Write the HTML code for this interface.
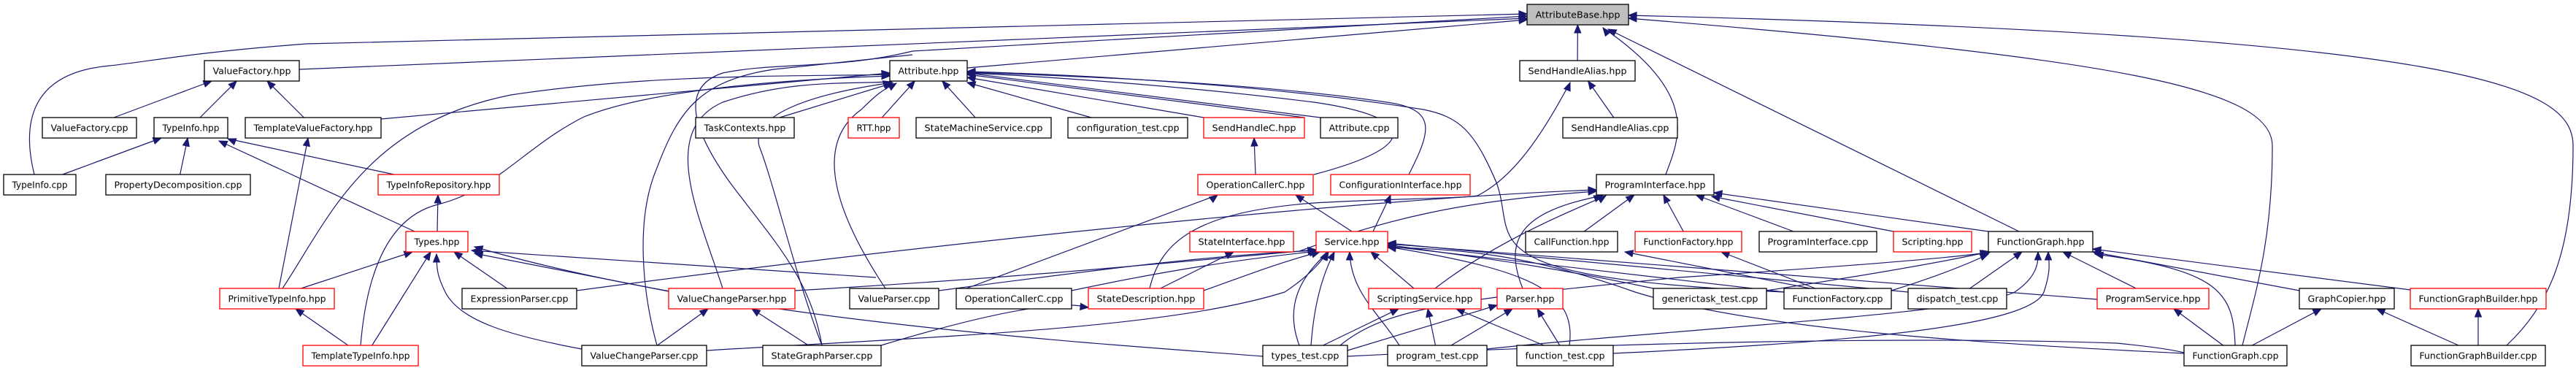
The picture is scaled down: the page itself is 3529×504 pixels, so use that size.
<!DOCTYPE html>
<html><head><meta charset="utf-8"><style>
html,body{margin:0;padding:0;background:#fff;}
svg{display:block;}
text{font-family:"DejaVu Sans","Liberation Sans",sans-serif;font-size:12.5px;fill:#000;}
</style></head><body>
<svg id="g" width="3529" height="504" viewBox="0 0 3529 504" xmlns="http://www.w3.org/2000/svg">
<g id="edges" fill="none" stroke="#191970" stroke-width="1.2"></g>
<g id="arrows" fill="#191970" stroke="#191970" stroke-width="1"></g>
<g id="nodes" stroke-width="1.3">
<rect x="2092" y="6" width="139" height="28" fill="#bfbfbf" stroke="#000"/><text x="2161.5" y="24.5" text-anchor="middle" textLength="116" lengthAdjust="spacingAndGlyphs">AttributeBase.hpp</text>
<rect x="280" y="83" width="130" height="28" fill="#fff" stroke="#000"/><text x="345" y="101.5" text-anchor="middle" textLength="107" lengthAdjust="spacingAndGlyphs">ValueFactory.hpp</text>
<rect x="1219" y="83" width="106" height="28" fill="#fff" stroke="#000"/><text x="1272" y="101.5" text-anchor="middle" textLength="83" lengthAdjust="spacingAndGlyphs">Attribute.hpp</text>
<rect x="2082" y="83" width="158" height="28" fill="#fff" stroke="#000"/><text x="2161" y="101.5" text-anchor="middle" textLength="135" lengthAdjust="spacingAndGlyphs">SendHandleAlias.hpp</text>
<rect x="58" y="161" width="129" height="28" fill="#fff" stroke="#000"/><text x="122.5" y="179.5" text-anchor="middle" textLength="106" lengthAdjust="spacingAndGlyphs">ValueFactory.cpp</text>
<rect x="211" y="161" width="101" height="28" fill="#fff" stroke="#000"/><text x="261.5" y="179.5" text-anchor="middle" textLength="78" lengthAdjust="spacingAndGlyphs">TypeInfo.hpp</text>
<rect x="336" y="161" width="186" height="28" fill="#fff" stroke="#000"/><text x="429" y="179.5" text-anchor="middle" textLength="163" lengthAdjust="spacingAndGlyphs">TemplateValueFactory.hpp</text>
<rect x="953" y="161" width="135" height="28" fill="#fff" stroke="#000"/><text x="1020.5" y="179.5" text-anchor="middle" textLength="112" lengthAdjust="spacingAndGlyphs">TaskContexts.hpp</text>
<rect x="1162" y="161" width="70" height="28" fill="#fff" stroke="#f00"/><text x="1197" y="179.5" text-anchor="middle" textLength="47" lengthAdjust="spacingAndGlyphs">RTT.hpp</text>
<rect x="1255" y="161" width="185" height="28" fill="#fff" stroke="#000"/><text x="1347.5" y="179.5" text-anchor="middle" textLength="162" lengthAdjust="spacingAndGlyphs">StateMachineService.cpp</text>
<rect x="1463" y="161" width="164" height="28" fill="#fff" stroke="#000"/><text x="1545" y="179.5" text-anchor="middle" textLength="141" lengthAdjust="spacingAndGlyphs">configuration_test.cpp</text>
<rect x="1649" y="161" width="138" height="28" fill="#fff" stroke="#f00"/><text x="1718" y="179.5" text-anchor="middle" textLength="115" lengthAdjust="spacingAndGlyphs">SendHandleC.hpp</text>
<rect x="1809" y="161" width="106" height="28" fill="#fff" stroke="#000"/><text x="1862" y="179.5" text-anchor="middle" textLength="83" lengthAdjust="spacingAndGlyphs">Attribute.cpp</text>
<rect x="2141" y="161" width="157" height="28" fill="#fff" stroke="#000"/><text x="2219.5" y="179.5" text-anchor="middle" textLength="134" lengthAdjust="spacingAndGlyphs">SendHandleAlias.cpp</text>
<rect x="5" y="239" width="99" height="28" fill="#fff" stroke="#000"/><text x="54.5" y="257.5" text-anchor="middle" textLength="76" lengthAdjust="spacingAndGlyphs">TypeInfo.cpp</text>
<rect x="145" y="239" width="198" height="28" fill="#fff" stroke="#000"/><text x="244" y="257.5" text-anchor="middle" textLength="175" lengthAdjust="spacingAndGlyphs">PropertyDecomposition.cpp</text>
<rect x="518" y="239" width="166" height="28" fill="#fff" stroke="#f00"/><text x="601" y="257.5" text-anchor="middle" textLength="143" lengthAdjust="spacingAndGlyphs">TypeInfoRepository.hpp</text>
<rect x="1641" y="239" width="158" height="28" fill="#fff" stroke="#f00"/><text x="1720" y="257.5" text-anchor="middle" textLength="135" lengthAdjust="spacingAndGlyphs">OperationCallerC.hpp</text>
<rect x="1823" y="239" width="191" height="28" fill="#fff" stroke="#f00"/><text x="1918.5" y="257.5" text-anchor="middle" textLength="168" lengthAdjust="spacingAndGlyphs">ConfigurationInterface.hpp</text>
<rect x="2187" y="239" width="161" height="28" fill="#fff" stroke="#000"/><text x="2267.5" y="257.5" text-anchor="middle" textLength="138" lengthAdjust="spacingAndGlyphs">ProgramInterface.hpp</text>
<rect x="556" y="317" width="85" height="28" fill="#fff" stroke="#f00"/><text x="598.5" y="335.5" text-anchor="middle" textLength="62" lengthAdjust="spacingAndGlyphs">Types.hpp</text>
<rect x="1630" y="317" width="142" height="28" fill="#fff" stroke="#f00"/><text x="1701" y="335.5" text-anchor="middle" textLength="119" lengthAdjust="spacingAndGlyphs">StateInterface.hpp</text>
<rect x="1803" y="317" width="98" height="28" fill="#fff" stroke="#f00"/><text x="1852" y="335.5" text-anchor="middle" textLength="75" lengthAdjust="spacingAndGlyphs">Service.hpp</text>
<rect x="2090" y="317" width="126" height="28" fill="#fff" stroke="#000"/><text x="2153" y="335.5" text-anchor="middle" textLength="103" lengthAdjust="spacingAndGlyphs">CallFunction.hpp</text>
<rect x="2240" y="317" width="146" height="28" fill="#fff" stroke="#f00"/><text x="2313" y="335.5" text-anchor="middle" textLength="123" lengthAdjust="spacingAndGlyphs">FunctionFactory.hpp</text>
<rect x="2410" y="317" width="161" height="28" fill="#fff" stroke="#000"/><text x="2490.5" y="335.5" text-anchor="middle" textLength="138" lengthAdjust="spacingAndGlyphs">ProgramInterface.cpp</text>
<rect x="2594" y="317" width="107" height="28" fill="#fff" stroke="#f00"/><text x="2647.5" y="335.5" text-anchor="middle" textLength="84" lengthAdjust="spacingAndGlyphs">Scripting.hpp</text>
<rect x="2724" y="317" width="143" height="28" fill="#fff" stroke="#000"/><text x="2795.5" y="335.5" text-anchor="middle" textLength="120" lengthAdjust="spacingAndGlyphs">FunctionGraph.hpp</text>
<rect x="301" y="395" width="157" height="28" fill="#fff" stroke="#f00"/><text x="379.5" y="413.5" text-anchor="middle" textLength="134" lengthAdjust="spacingAndGlyphs">PrimitiveTypeInfo.hpp</text>
<rect x="633" y="395" width="157" height="28" fill="#fff" stroke="#000"/><text x="711.5" y="413.5" text-anchor="middle" textLength="134" lengthAdjust="spacingAndGlyphs">ExpressionParser.cpp</text>
<rect x="916" y="395" width="173" height="28" fill="#fff" stroke="#f00"/><text x="1002.5" y="413.5" text-anchor="middle" textLength="150" lengthAdjust="spacingAndGlyphs">ValueChangeParser.hpp</text>
<rect x="1164" y="395" width="122" height="28" fill="#fff" stroke="#000"/><text x="1225" y="413.5" text-anchor="middle" textLength="99" lengthAdjust="spacingAndGlyphs">ValueParser.cpp</text>
<rect x="1310" y="395" width="158" height="28" fill="#fff" stroke="#000"/><text x="1389" y="413.5" text-anchor="middle" textLength="135" lengthAdjust="spacingAndGlyphs">OperationCallerC.cpp</text>
<rect x="1491" y="395" width="158" height="28" fill="#fff" stroke="#f00"/><text x="1570" y="413.5" text-anchor="middle" textLength="135" lengthAdjust="spacingAndGlyphs">StateDescription.hpp</text>
<rect x="1875" y="395" width="154" height="28" fill="#fff" stroke="#f00"/><text x="1952" y="413.5" text-anchor="middle" textLength="131" lengthAdjust="spacingAndGlyphs">ScriptingService.hpp</text>
<rect x="2051" y="395" width="90" height="28" fill="#fff" stroke="#f00"/><text x="2096" y="413.5" text-anchor="middle" textLength="67" lengthAdjust="spacingAndGlyphs">Parser.hpp</text>
<rect x="2265" y="395" width="155" height="28" fill="#fff" stroke="#000"/><text x="2342.5" y="413.5" text-anchor="middle" textLength="132" lengthAdjust="spacingAndGlyphs">generictask_test.cpp</text>
<rect x="2444" y="395" width="147" height="28" fill="#fff" stroke="#000"/><text x="2517.5" y="413.5" text-anchor="middle" textLength="124" lengthAdjust="spacingAndGlyphs">FunctionFactory.cpp</text>
<rect x="2614" y="395" width="135" height="28" fill="#fff" stroke="#000"/><text x="2681.5" y="413.5" text-anchor="middle" textLength="112" lengthAdjust="spacingAndGlyphs">dispatch_test.cpp</text>
<rect x="2873" y="395" width="153" height="28" fill="#fff" stroke="#f00"/><text x="2949.5" y="413.5" text-anchor="middle" textLength="130" lengthAdjust="spacingAndGlyphs">ProgramService.hpp</text>
<rect x="3150" y="395" width="130" height="28" fill="#fff" stroke="#000"/><text x="3215" y="413.5" text-anchor="middle" textLength="107" lengthAdjust="spacingAndGlyphs">GraphCopier.hpp</text>
<rect x="3302" y="395" width="186" height="28" fill="#fff" stroke="#f00"/><text x="3395" y="413.5" text-anchor="middle" textLength="163" lengthAdjust="spacingAndGlyphs">FunctionGraphBuilder.hpp</text>
<rect x="415" y="473" width="158" height="28" fill="#fff" stroke="#f00"/><text x="494" y="491.5" text-anchor="middle" textLength="135" lengthAdjust="spacingAndGlyphs">TemplateTypeInfo.hpp</text>
<rect x="797" y="473" width="171" height="28" fill="#fff" stroke="#000"/><text x="882.5" y="491.5" text-anchor="middle" textLength="148" lengthAdjust="spacingAndGlyphs">ValueChangeParser.cpp</text>
<rect x="1045" y="473" width="162" height="28" fill="#fff" stroke="#000"/><text x="1126" y="491.5" text-anchor="middle" textLength="139" lengthAdjust="spacingAndGlyphs">StateGraphParser.cpp</text>
<rect x="1730" y="473" width="116" height="28" fill="#fff" stroke="#000"/><text x="1788" y="491.5" text-anchor="middle" textLength="93" lengthAdjust="spacingAndGlyphs">types_test.cpp</text>
<rect x="1901" y="473" width="136" height="28" fill="#fff" stroke="#000"/><text x="1969" y="491.5" text-anchor="middle" textLength="113" lengthAdjust="spacingAndGlyphs">program_test.cpp</text>
<rect x="2078" y="473" width="132" height="28" fill="#fff" stroke="#000"/><text x="2144" y="491.5" text-anchor="middle" textLength="109" lengthAdjust="spacingAndGlyphs">function_test.cpp</text>
<rect x="2992" y="473" width="141" height="28" fill="#fff" stroke="#000"/><text x="3062.5" y="491.5" text-anchor="middle" textLength="118" lengthAdjust="spacingAndGlyphs">FunctionGraph.cpp</text>
<rect x="3303" y="473" width="184" height="28" fill="#fff" stroke="#000"/><text x="3395" y="491.5" text-anchor="middle" textLength="161" lengthAdjust="spacingAndGlyphs">FunctionGraphBuilder.cpp</text>
</g>
</svg>
<script>
(function(){
var R=[6,83,161,239,317,395,473],H=28;
var N={
"AttributeBase.hpp":[2092,2231,0],"ValueFactory.hpp":[280,410,1],"Attribute.hpp":[1219,1325,1],"SendHandleAlias.hpp":[2082,2240,1],
"ValueFactory.cpp":[58,187,2],"TypeInfo.hpp":[211,312,2],"TemplateValueFactory.hpp":[336,522,2],"TaskContexts.hpp":[953,1088,2],
"RTT.hpp":[1162,1232,2],"StateMachineService.cpp":[1255,1440,2],"configuration_test.cpp":[1463,1627,2],"SendHandleC.hpp":[1649,1787,2],
"Attribute.cpp":[1809,1915,2],"SendHandleAlias.cpp":[2141,2298,2],"TypeInfo.cpp":[5,104,3],"PropertyDecomposition.cpp":[145,343,3],
"TypeInfoRepository.hpp":[518,684,3],"OperationCallerC.hpp":[1641,1799,3],"ConfigurationInterface.hpp":[1823,2014,3],"ProgramInterface.hpp":[2187,2348,3],
"Types.hpp":[556,641,4],"StateInterface.hpp":[1630,1772,4],"Service.hpp":[1803,1901,4],"CallFunction.hpp":[2090,2216,4],
"FunctionFactory.hpp":[2240,2386,4],"ProgramInterface.cpp":[2410,2571,4],"Scripting.hpp":[2594,2701,4],"FunctionGraph.hpp":[2724,2867,4],
"PrimitiveTypeInfo.hpp":[301,458,5],"ExpressionParser.cpp":[633,790,5],"ValueChangeParser.hpp":[916,1089,5],"ValueParser.cpp":[1164,1286,5],
"OperationCallerC.cpp":[1310,1468,5],"StateDescription.hpp":[1491,1649,5],"ScriptingService.hpp":[1875,2029,5],"Parser.hpp":[2051,2141,5],
"generictask_test.cpp":[2265,2420,5],"FunctionFactory.cpp":[2444,2591,5],"dispatch_test.cpp":[2614,2749,5],"ProgramService.hpp":[2873,3026,5],
"GraphCopier.hpp":[3150,3280,5],"FunctionGraphBuilder.hpp":[3302,3488,5],"TemplateTypeInfo.hpp":[415,573,6],"ValueChangeParser.cpp":[797,968,6],
"StateGraphParser.cpp":[1045,1207,6],"types_test.cpp":[1730,1846,6],"program_test.cpp":[1901,2037,6],"function_test.cpp":[2078,2210,6],
"FunctionGraph.cpp":[2992,3133,6],"FunctionGraphBuilder.cpp":[3303,3487,6]};
var NS="http://www.w3.org/2000/svg",E=document.getElementById("edges"),A=document.getElementById("arrows");
function B(n){var v=N[n];return {x1:v[0],x2:v[1],t:R[v[2]],b:R[v[2]]+H,cx:(v[0]+v[1])/2,cy:R[v[2]]+H/2};}
function cl(v,a,b){return Math.max(a,Math.min(b,v));}
function arrow(ex,ey,dx,dy){var l=Math.sqrt(dx*dx+dy*dy)||1;dx/=l;dy/=l;var L=11,W=4.5;
var bx=ex-dx*L,by=ey-dy*L;var p=document.createElementNS(NS,"polygon");
p.setAttribute("points",ex+","+ey+" "+(bx-dy*W)+","+(by+dx*W)+" "+(bx+dy*W)+","+(by-dx*W));A.appendChild(p);}
function path(d){var p=document.createElementNS(NS,"path");p.setAttribute("d",d);E.appendChild(p);}
function e(c,p,o){o=o||{};var C=B(c),P=B(p);var sx,sy,ex,ey,c1x,c1y,c2x,c2y;
 if(o.sx!=null){sx=o.sx;sy=o.sy;}else{sx=cl(C.cx+(P.cx-C.cx)*0.15,C.x1+10,C.x2-10);sy=C.t;}
 if(o.side=="l"){ex=P.x1;ey=P.cy+(o.dy||0);}
 else if(o.side=="r"){ex=P.x2;ey=P.cy+(o.dy||0);}
 else{ex=o.ex!=null?o.ex:cl(P.cx+(C.cx-P.cx)*0.25,P.x1+10,P.x2-10);ey=P.b;}
 var dy=sy-ey;
 if(o.side){c1x=sx;c1y=sy-dy*0.5;c2x=ex+(sx-ex)*0.5;c2y=ey+(sy-ey)*0.15;}
 else{c1x=sx+(ex-sx)*0.3;c1y=sy-dy*0.3;c2x=ex+(sx-ex)*0.3;c2y=ey+dy*0.3;}
 if(o.straight){c1x=sx+(ex-sx)/3;c1y=sy+(ey-sy)/3;c2x=sx+2*(ex-sx)/3;c2y=sy+2*(ey-sy)/3;}
 path("M"+sx+","+sy+" C"+c1x+","+c1y+" "+c2x+","+c2y+" "+ex+","+ey);
 arrow(ex,ey,ex-c2x,ey-c2y);}
function raw(d,ex,ey,dx,dy){path(d);arrow(ex,ey,dx,dy);}
var S={straight:1};
raw("M410,95 L2092,25",2092,25,1,-0.042);
raw("M47,239 C30,170 40,100 150,90 C200,85 260,72 420,60 L2092,19",2092,19,1,-0.02);
raw("M1325,93 L2092,27",2092,27,1,-0.09);
raw("M1126,473 C1110,380 1060,330 1000,250 C950,180 930,120 990,100 C1060,85 1150,95 1250,70 L2092,22",2092,22,1,-0.03);
raw("M900,473 C880,400 870,300 900,230 C930,150 960,110 1060,95 L1250,75",1250,75,0,0);
raw("M2282,239 C2300,190 2330,130 2196,38",2196,38,-0.8,-1);
raw("M2766,317 L2203,40",2203,40,-1,-0.5);
raw("M3072,473 C3090,400 3113,330 3113,200 C3113,120 2900,80 2231,25",2231,25,-1,-0.03);
raw("M3434,473 C3490,420 3525,350 3525,200 C3525,120 3400,50 2231,21",2231,21,-1,-0.01);
e("SendHandleAlias.hpp","AttributeBase.hpp",S);
e("ValueFactory.cpp","ValueFactory.hpp",S);e("TypeInfo.hpp","ValueFactory.hpp",S);e("TemplateValueFactory.hpp","ValueFactory.hpp",S);
e("TypeInfo.cpp","TypeInfo.hpp",S);e("PropertyDecomposition.cpp","TypeInfo.hpp",S);
raw("M568,317 L300,193",300,193,-1,-0.46);
raw("M540,239 L312,190",312,190,-1,-0.4);
e("PrimitiveTypeInfo.hpp","TemplateValueFactory.hpp",{sx:382,sy:395,ex:422,straight:1});
e("Types.hpp","TypeInfoRepository.hpp",{sx:599,sy:317,ex:600,straight:1});
e("PrimitiveTypeInfo.hpp","Types.hpp",{ex:565,straight:1});
e("TemplateTypeInfo.hpp","Types.hpp",{ex:590,straight:1});
e("ExpressionParser.cpp","Types.hpp",{ex:622,straight:1});
e("TemplateTypeInfo.hpp","PrimitiveTypeInfo.hpp",{ex:405,straight:1});
raw("M797,478 C700,460 630,440 610,400 C600,380 598,370 598,348",598,348,0,-1);
raw("M916,399 L650,347",650,347,-1,-0.2);
raw("M1730,488 C1500,470 1000,440 650,338",650,338,-1,-0.3);
raw("M1200,380 L646,343",646,343,-1,-0.1);
raw("M522,163 L1219,100",1219,100,1,-0.09);
raw("M387,395 C450,300 500,170 700,130 C900,100 1100,105 1219,102",1219,102,1,0);
raw("M494,473 C500,400 520,300 600,280 C680,260 720,200 800,160 C900,120 1100,108 1219,104",1219,104,1,0);
raw("M990,395 C960,300 900,180 990,140 C1080,110 1150,115 1221,112",1221,112,1,-0.3);
raw("M1126,473 C1090,380 1060,250 1040,200 C1030,160 1100,130 1223,113",1223,113,1,-0.4);
raw("M1213,395 C1150,300 1110,200 1180,150 C1200,130 1210,122 1228,114",1228,114,1,-0.6);
raw("M1068,161 L1222,114",1222,114,1,-0.4);
e("RTT.hpp","Attribute.hpp",S);e("StateMachineService.cpp","Attribute.hpp",S);
raw("M1495,161 L1325,113",1325,113,-1,-0.3);
raw("M1649,161 L1325,106",1325,106,-1,-0.2);
raw("M1787,161 L1325,102",1325,102,-1,-0.1);
raw("M1809,161 L1325,100",1325,100,-1,-0.05);
raw("M1800,239 C1950,200 1940,160 1800,140 C1600,115 1400,103 1325,100",1325,100,-1,0);
raw("M1930,239 C1960,180 1970,150 1900,140 C1700,110 1400,102 1325,99",1325,99,-1,0);
raw("M2444,400 C2000,380 2080,330 2050,250 C2020,180 2000,160 1950,150 C1700,110 1400,100 1325,98",1325,98,-1,0);
e("OperationCallerC.hpp","SendHandleC.hpp",{sx:1720,sy:239,ex:1718,straight:1});
raw("M1852,317 L1775,267",1775,267,-0.8,-0.55);
raw("M1881,317 L1905,267",1905,267,0.4,-1);
raw("M1324,395 L1668,267",1668,267,1,-0.75);
raw("M1780,344 C1900,300 2000,275 2187,262",2187,262,1,-0.05);
e("SendHandleAlias.cpp","SendHandleAlias.hpp",S);
raw("M1575,395 C1590,330 1640,290 1800,278 C1900,272 2000,272 2024,268 C2080,240 2120,170 2151,113",2151,113,0.4,-1);
raw("M790,398 C1300,330 1900,270 2187,260",2187,260,1,-0.02);
e("CallFunction.hpp","ProgramInterface.hpp",S);e("FunctionFactory.hpp","ProgramInterface.hpp",S);
e("ProgramInterface.cpp","ProgramInterface.hpp",S);
raw("M2594,317 L2345,269",2345,269,-1,-0.2);
raw("M2724,317 L2348,264",2348,264,-1,-0.13);
raw("M1966,395 C2050,330 2150,290 2200,268",2200,268,0.8,-0.5);
raw("M2086,395 C2060,330 2080,290 2195,268",2195,268,1,-0.4);
e("StateDescription.hpp","StateInterface.hpp",{ex:1690,straight:1});
raw("M1207,473 C1350,430 1450,410 1491,421",1491,421,1,0.1);
e("ValueChangeParser.cpp","ValueChangeParser.hpp",{ex:970,straight:1});
e("StateGraphParser.cpp","ValueChangeParser.hpp",{ex:1030,straight:1});
raw("M1089,398 C1400,380 1600,360 1803,342",1803,342,1,-0.1);
raw("M1286,398 C1500,370 1650,350 1803,343",1803,343,1,-0.1);
raw("M1468,398 C1600,370 1700,355 1805,344",1805,344,1,-0.2);
raw("M1649,398 C1700,380 1750,360 1808,345",1808,345,1,-0.3);
raw("M968,480 C1300,460 1600,450 1760,400 C1790,380 1810,360 1818,345",1818,345,0.5,-1);
raw("M1780,473 C1760,420 1780,380 1820,345",1820,345,0.6,-1);
raw("M1796,473 C1800,420 1810,380 1828,345",1828,345,0.5,-1);
e("ScriptingService.hpp","Service.hpp",{ex:1878,straight:1});
raw("M1917,473 C1890,430 1850,400 1849,345",1849,345,0,-1);
raw("M2150,473 C2160,400 2100,370 1901,338",1901,338,-1,-0.2);
raw("M2265,395 C2100,360 2000,350 1901,335",1901,335,-1,-0.15);
raw("M2444,400 C2200,370 2000,350 1901,337",1901,337,-1,-0.1);
raw("M2614,400 C2300,370 2050,345 1901,333",1901,333,-1,-0.05);
raw("M2873,410 C2500,380 2100,350 1901,334",1901,334,-1,-0.05);
raw("M2992,484 C2700,470 2400,450 2240,400 C2100,350 2000,340 1901,339",1901,339,-1,-0.05);
e("types_test.cpp","ScriptingService.hpp",{ex:1916,straight:1});
e("program_test.cpp","ScriptingService.hpp",{ex:1956,straight:1});
e("function_test.cpp","ScriptingService.hpp",{ex:1995,straight:1});
raw("M1846,480 L2051,418",2051,418,1,-0.3);
e("program_test.cpp","Parser.hpp",{ex:2072,straight:1});
e("function_test.cpp","Parser.hpp",{ex:2106,straight:1});
e("FunctionFactory.cpp","CallFunction.hpp",{ex:2226,sx:2480,sy:395,straight:1});
e("FunctionFactory.cpp","FunctionFactory.hpp",{ex:2358,straight:1});
e("dispatch_test.cpp","FunctionGraph.hpp",{ex:2770,straight:1});
e("ProgramService.hpp","FunctionGraph.hpp",{ex:2826,straight:1});
raw("M3150,398 L2867,345",2867,345,-1,-0.2);
raw("M3302,397 L2867,341",2867,341,-1,-0.13);
raw("M3062,473 C3060,400 3040,370 2870,348",2870,348,-1,-0.15);
raw("M2420,398 C2600,370 2680,355 2724,345",2724,345,1,-0.2);
raw("M2591,398 C2650,380 2700,360 2724,348",2724,348,1,-0.4);
raw("M1836,473 C1900,420 2000,410 2300,380 C2600,360 2700,350 2727,345",2727,345,1,-0.2);
raw("M2037,478 C2300,450 2700,430 2760,400 C2790,380 2793,360 2792,345",2792,345,0,-1);
raw("M2210,484 C2500,470 2780,450 2800,400 C2810,370 2807,360 2806,345",2806,345,0,-1);
raw("M1846,488 C2200,470 2600,460 2900,470 C2950,475 2980,480 2992,483",2992,483,0,0);
e("FunctionGraph.cpp","ProgramService.hpp",{ex:2978,straight:1});
e("FunctionGraph.cpp","GraphCopier.hpp",{ex:3180,straight:1});
e("FunctionGraphBuilder.cpp","GraphCopier.hpp",{ex:3256,straight:1});
e("FunctionGraphBuilder.cpp","FunctionGraphBuilder.hpp",{sx:3395,sy:473,ex:3395,straight:1});
})();
</script>
</body></html>
